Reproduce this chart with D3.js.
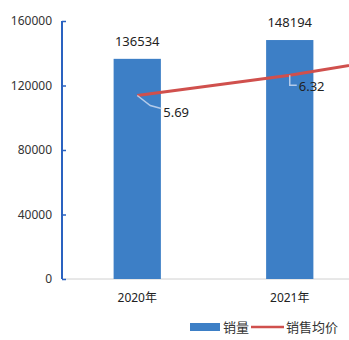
<!DOCTYPE html>
<html>
<head>
<meta charset="utf-8">
<script src="https://cdn.jsdelivr.net/npm/d3@7"></script>
<style>
  body { margin: 0; background: #fff; }
  text { font-family: "Noto Sans", "Noto Sans CJK SC", sans-serif; }
</style>
</head>
<body>
<svg class="chart"></svg>
<script>
// the third year lies beyond the right edge of the picture; only its price line is seen
var years = ["2020年", "2021年", "2022年"];
var sales = [136534, 148194];
var price = [5.69, 6.32, 7.1];
var yTicks = [0, 40000, 80000, 120000, 160000];

var width = 349,
    height = 340;

var svg = d3.select(".chart")
    .attr("width", width)
    .attr("height", height);

var x = d3.scaleBand()
    .domain(years)
    .range([61, 518.5])
    .paddingInner(0.69)
    .paddingOuter(0.345);

var y = d3.scaleLinear()
    .domain([0, 160000])
    .range([279, 21]);

var y2 = d3.scaleLinear()
    .domain([0, 8])
    .range([279, 21]);

// x axis line
svg.append("line")
    .attr("x1", 62).attr("x2", width)
    .attr("y1", y(0)).attr("y2", y(0))
    .attr("stroke", "#d0d0d0")
    .attr("stroke-width", 1);

// bars
svg.selectAll(".bar")
    .data(sales)
    .enter()
    .append("rect")
    .attr("class", "bar")
    .attr("x", function(d, i) { return x(years[i]); })
    .attr("y", function(d) { return y(d); })
    .attr("width", x.bandwidth())
    .attr("height", function(d) { return y(0) - y(d); })
    .attr("fill", "#3d7fc6");

// bar labels
svg.selectAll(".blabel")
    .data(sales)
    .enter()
    .append("text")
    .attr("x", function(d, i) { return x(years[i]) + x.bandwidth() / 2; })
    .attr("y", function(d) { return y(d) - 13; })
    .attr("text-anchor", "middle")
    .attr("font-size", 13)
    .attr("fill", "#222")
    .text(function(d) { return d; });

// y axis
var yAxis = d3.axisLeft(y)
    .tickValues(yTicks)
    .tickSize(-4)
    .tickPadding(10)
    .tickFormat(d3.format("d"));

var ga = svg.append("g")
    .attr("transform", "translate(62,0)")
    .call(yAxis);
ga.select(".domain").remove();
ga.selectAll(".tick line").attr("stroke", "#2a62c0").attr("stroke-width", 1.5);
ga.selectAll(".tick text").attr("font-size", 12).attr("fill", "#333");
svg.append("line")
    .attr("x1", 62).attr("x2", 62)
    .attr("y1", y(160000)).attr("y2", y(0))
    .attr("stroke", "#2a62c0")
    .attr("stroke-width", 2);

// x labels (only the years that have a bar in view)
svg.selectAll(".xlabel")
    .data(years.slice(0, sales.length))
    .enter()
    .append("text")
    .attr("x", function(d) { return x(d) + x.bandwidth() / 2; })
    .attr("y", 302)
    .attr("text-anchor", "middle")
    .attr("font-size", 12)
    .attr("fill", "#222")
    .text(function(d) { return d; });

// price line
var cx = function(i) { return x(years[i]) + x.bandwidth() / 2; };
var line = d3.line()
    .x(function(d, i) { return cx(i); })
    .y(function(d) { return y2(d); });

svg.append("path")
    .datum(price)
    .attr("d", line)
    .attr("fill", "none")
    .attr("stroke", "#d0504d")
    .attr("stroke-width", 3);

// leader lines + labels
var leaders = [
  [[0, 0], [13, 10], [24, 13]],
  [[0, 0], [0, 10], [7, 10]]
];
var lblOff = [[26, 22], [9, 16]];
price.slice(0, 2).forEach(function(d, i) {
  var px = cx(i), py = y2(d);
  svg.append("path")
    .attr("d", d3.line()(leaders[i].map(function(p) { return [px + p[0], py + p[1]]; })))
    .attr("fill", "none")
    .attr("stroke", "#b4cbea")
    .attr("stroke-width", 1.5);
  svg.append("text")
    .attr("x", px + lblOff[i][0])
    .attr("y", py + lblOff[i][1])
    .attr("font-size", 13)
    .attr("fill", "#222")
    .text(d.toFixed(2));
});

// legend
svg.append("rect")
    .attr("x", 190).attr("y", 323)
    .attr("width", 30).attr("height", 8)
    .attr("fill", "#3d7fc6");
svg.append("text")
    .attr("x", 223).attr("y", 332)
    .attr("font-size", 13)
    .attr("fill", "#333")
    .style("font-family", "'Noto Sans CJK SC'")
    .text("销量");
svg.append("line")
    .attr("x1", 251).attr("x2", 284)
    .attr("y1", 327).attr("y2", 327)
    .attr("stroke", "#d0504d")
    .attr("stroke-width", 2.5);
svg.append("text")
    .attr("x", 286).attr("y", 332)
    .attr("font-size", 13)
    .attr("fill", "#333")
    .style("font-family", "'Noto Sans CJK SC'")
    .text("销售均价");
</script>
</body>
</html>
